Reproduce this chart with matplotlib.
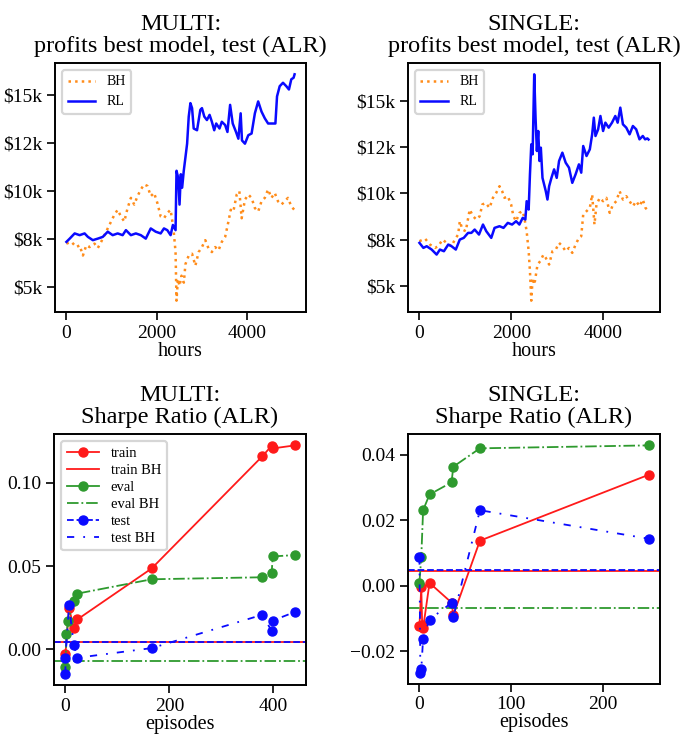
import matplotlib
matplotlib.use('Agg')
import matplotlib.pyplot as plt
from matplotlib.lines import Line2D
from matplotlib.ticker import FuncFormatter, MultipleLocator

# ---- top row: portfolio value on the test set (hours) ----
multi_bh_hours = [0, 110, 220, 293, 366, 440, 513, 623, 696, 770,
                  880, 953, 1063, 1136, 1209, 1283, 1356, 1429, 1503, 1576,
                  1650, 1723, 1796, 1870, 1943, 2016, 2090, 2163, 2236, 2309,
                  2360, 2382, 2419, 2440, 2470, 2507, 2550, 2602, 2638, 2711,
                  2785, 2858, 2931, 3004, 3078, 3151, 3224, 3298, 3371, 3444,
                  3518, 3591, 3642, 3700, 3774, 3833, 3884, 3957, 4031, 4104,
                  4177, 4250, 4324, 4397, 4470, 4544, 4617, 4690, 4764, 4837,
                  4910, 4984, 5050]
multi_bh_value = [7270, 7360, 7090, 7180, 6650, 7180, 7090, 7270, 7040, 7360,
                  7890, 8240, 8770, 9030, 8680, 8420, 9120, 9650, 9300, 9740,
                  10090, 10350, 10270, 9740, 9910, 9380, 8680, 8590, 8860, 9030,
                  8240, 7800, 6830, 4300, 5420, 5070, 5600, 5240, 6200, 6650,
                  6740, 6120, 6830, 7090, 7450, 7010, 6830, 7090, 6920, 7360,
                  7620, 8420, 9030, 8940, 9820, 10000, 8590, 9560, 9820, 9650,
                  9120, 8940, 9470, 9650, 10090, 9650, 9910, 9470, 9300, 9470,
                  9650, 9210, 9030]

multi_rl_hours = [0, 73, 183, 293, 403, 476, 586, 696, 806, 916,
                  1026, 1136, 1246, 1319, 1429, 1539, 1649, 1759, 1869, 1979,
                  2089, 2162, 2236, 2309, 2360, 2419, 2440, 2477, 2507, 2536,
                  2565, 2601, 2638, 2675, 2711, 2748, 2785, 2821, 2895, 2968,
                  3004, 3056, 3114, 3173, 3224, 3276, 3320, 3393, 3444, 3518,
                  3569, 3628, 3686, 3759, 3811, 3862, 3891, 3957, 4031, 4104,
                  4177, 4250, 4324, 4397, 4470, 4544, 4632, 4668, 4727, 4800,
                  4874, 4932, 4984, 5035, 5057]
multi_rl_value = [7360, 7530, 7800, 7710, 7800, 7620, 7450, 7530, 7620, 7890,
                  7710, 7800, 7710, 7970, 7710, 7800, 7710, 7530, 8060, 7890,
                  7800, 8060, 7970, 7710, 8240, 7970, 11060, 10700, 9300, 10880,
                  10180, 11060, 11760, 12470, 13880, 14580, 14320, 13260, 13170, 14230,
                  14320, 13880, 13700, 13970, 13610, 13170, 13520, 13260, 13610, 13440,
                  13080, 14490, 13520, 13080, 12730, 14050, 12640, 12470, 12910, 13000,
                  14050, 14670, 14140, 13790, 13520, 13520, 13520, 14930, 15460, 15640,
                  15460, 15290, 15820, 15900, 16080]

single_bh_hours = [0, 122, 230, 338, 410, 504, 590, 699, 771, 843,
                   879, 937, 1009, 1095, 1167, 1240, 1312, 1369, 1441, 1528,
                   1600, 1672, 1744, 1802, 1852, 1924, 1997, 2047, 2105, 2177,
                   2249, 2285, 2335, 2379, 2407, 2436, 2465, 2501, 2515, 2572,
                   2630, 2702, 2752, 2825, 2897, 2969, 3041, 3113, 3185, 3257,
                   3329, 3401, 3474, 3524, 3567, 3639, 3711, 3762, 3812, 3856,
                   3928, 4000, 4072, 4144, 4216, 4288, 4360, 4432, 4505, 4577,
                   4649, 4721, 4793, 4865, 4923, 4990]
single_bh_value = [7410, 7550, 7230, 7050, 7140, 7500, 7320, 7140, 7500, 7770,
                   8490, 8040, 7950, 9120, 8760, 8580, 8760, 9390, 9480, 9210,
                   9750, 10020, 10380, 10110, 9750, 9840, 9390, 8760, 8490, 8940,
                   9030, 8670, 7950, 6870, 5790, 4200, 5430, 5070, 5250, 6150,
                   6330, 6690, 6510, 6150, 6870, 6960, 7320, 7140, 6870, 7050,
                   6780, 7230, 7590, 7680, 8850, 9030, 9210, 9930, 8310, 9390,
                   9750, 9570, 9750, 8940, 9390, 9570, 10110, 9660, 9840, 9570,
                   9300, 9570, 9300, 9660, 9210, 9030]

single_rl_hours = [0, 86, 158, 266, 374, 446, 533, 627, 699, 792,
                   879, 965, 1059, 1131, 1203, 1297, 1384, 1456, 1564, 1636,
                   1744, 1831, 1924, 2018, 2105, 2177, 2249, 2307, 2335, 2379,
                   2407, 2436, 2465, 2500, 2529, 2558, 2587, 2615, 2644, 2680,
                   2716, 2752, 2788, 2825, 2875, 2933, 2990, 3041, 3113, 3185,
                   3257, 3329, 3401, 3474, 3524, 3567, 3639, 3711, 3762, 3798,
                   3834, 3892, 3942, 4000, 4050, 4122, 4194, 4266, 4317, 4375,
                   4432, 4505, 4577, 4649, 4721, 4793, 4865, 4915, 4966, 4990]
single_rl_value = [7320, 7050, 7140, 6960, 6690, 6960, 6870, 7230, 7140, 6960,
                   7500, 7590, 7860, 7860, 8040, 7770, 8310, 7950, 7590, 8130,
                   8220, 8130, 8400, 8310, 8490, 8310, 8670, 8580, 9570, 9120,
                   11020, 12640, 12100, 16420, 14080, 12280, 13360, 11740, 12460, 10830,
                   10470, 10110, 9660, 10380, 10830, 11290, 10830, 11740, 12190, 11650,
                   11380, 10560, 11020, 11560, 11110, 12550, 12010, 12370, 13180, 14080,
                   13090, 13450, 14170, 13360, 13810, 13540, 13810, 14170, 13810, 14620,
                   13720, 13540, 13180, 13630, 13450, 12910, 13090, 12910, 12960, 12900]

# ---- bottom row: sharpe ratio vs episodes ----
multi_train_ep = [0, 7, 16, 23, 166, 379, 397, 399, 441]
multi_train_sr = [-0.0025, 0.0248, 0.0130, 0.0180, 0.0486, 0.1159, 0.1222, 0.1206, 0.1224]
multi_eval_ep = [0, 2, 5, 16, 23, 166, 379, 397, 399, 441]
multi_eval_sr = [-0.0105, 0.0090, 0.0170, 0.0290, 0.0335, 0.0421, 0.0433, 0.0460, 0.0558, 0.0566]
multi_test_ep = [0, 0, 7, 16, 23, 166, 379, 397, 399, 441]
multi_test_sr = [-0.0145, -0.0050, 0.0268, 0.0026, -0.0050, 0.0008, 0.0208, 0.0111, 0.0173, 0.0224]
multi_train_bh = 0.0042
multi_eval_bh = -0.0069
multi_test_bh = 0.0046

single_train_ep = [0, 2, 3, 4, 11, 35, 37, 66, 250]
single_train_sr = [-0.0124, -0.0004, -0.0121, -0.0130, 0.0008, -0.0052, -0.0090, 0.0137, 0.0338]
single_eval_ep = [0, 2, 4, 11, 35, 37, 66, 250]
single_eval_sr = [0.0009, 0.0087, 0.0230, 0.0278, 0.0315, 0.0363, 0.0419, 0.0428]
single_test_ep = [0, 1, 2, 4, 11, 35, 37, 66, 250]
single_test_sr = [0.0086, -0.0266, -0.0256, -0.0162, -0.0104, -0.0053, -0.0096, 0.0230, 0.0143]
single_train_bh = 0.0043
single_eval_bh = -0.0068
single_test_bh = 0.0047

C_BH = '#ff8c1a'
C_RL = '#0a0aff'
C_TRAIN = '#ff1a1a'
C_EVAL = '#2e9a2e'
C_TEST = '#0a0aff'
LOOSE_DASHDOT = (0, (4, 5, 1, 5))

plt.rcParams['font.family'] = ['Liberation Serif', 'DejaVu Serif']
plt.rcParams['axes.linewidth'] = 1.4
plt.rcParams['xtick.major.size'] = 5.5
plt.rcParams['ytick.major.size'] = 5.5
plt.rcParams['xtick.major.width'] = 1.2
plt.rcParams['ytick.major.width'] = 1.2
plt.rcParams['xtick.labelsize'] = 14
plt.rcParams['ytick.labelsize'] = 14
plt.rcParams['axes.labelsize'] = 14.5
plt.rcParams['axes.titlesize'] = 17.5
plt.rcParams['legend.edgecolor'] = '0.8'


def dollars(v, pos):
    return f'${v / 1000:.0f}k'


def profit_panel(ax, title, bh_h, bh_v, rl_h, rl_v):
    ax.plot(bh_h, bh_v, ':', color=C_BH, lw=1.8, label='BH')
    ax.plot(rl_h, rl_v, '-', color=C_RL, lw=1.8, label='RL')
    ax.yaxis.set_major_locator(MultipleLocator(2500))
    ax.yaxis.set_major_formatter(FuncFormatter(dollars))
    ax.xaxis.set_major_locator(MultipleLocator(2000))
    ax.set_xlabel('hours', labelpad=0)
    ax.set_title(title, pad=8, linespacing=1.05)
    leg = ax.legend(loc='upper left', fontsize=10, handlelength=2.0)
    leg.get_frame().set_linewidth(1.6)


def sharpe_panel(ax, title, tr, ev, te, bh, show_legend):
    ms = 6.5
    ax.plot(tr[0], tr[1], '-', marker='o', color=C_TRAIN, lw=1.3, ms=ms)
    ax.axhline(bh[0], color=C_TRAIN, ls='-', lw=1.3)
    ax.plot(ev[0], ev[1], '-.', marker='o', color=C_EVAL, lw=1.3, ms=ms)
    ax.axhline(bh[1], color=C_EVAL, ls='-.', lw=1.3)
    ax.plot(te[0], te[1], ls=LOOSE_DASHDOT, marker='o', color=C_TEST, lw=1.3, ms=ms)
    ax.axhline(bh[2], color=C_TEST, ls='--', lw=1.3)
    ax.set_xlabel('episodes', labelpad=0)
    ax.set_title(title, pad=8, linespacing=1.05)
    if show_legend:
        handles = [
            Line2D([], [], color=C_TRAIN, ls='-', marker='o', lw=1.3, ms=ms),
            Line2D([], [], color=C_TRAIN, ls='-', lw=1.3),
            Line2D([], [], color=C_EVAL, ls='-', marker='o', lw=1.3, ms=ms),
            Line2D([], [], color=C_EVAL, ls='-.', lw=1.3),
            Line2D([], [], color=C_TEST, ls='--', marker='o', lw=1.3, ms=ms),
            Line2D([], [], color=C_TEST, ls=LOOSE_DASHDOT, lw=1.3),
        ]
        labels = ['train', 'train BH', 'eval', 'eval BH', 'test', 'test BH']
        leg = ax.legend(handles, labels, loc='upper left', fontsize=10.5,
                        handlelength=2.2, labelspacing=0.25)
        leg.get_frame().set_linewidth(1.6)


fig = plt.figure(figsize=(6.85, 7.35), dpi=100)
ax1 = fig.add_axes([0.0803, 0.5755, 0.3664, 0.3388])
ax2 = fig.add_axes([0.5956, 0.5755, 0.3679, 0.3388])
ax3 = fig.add_axes([0.0788, 0.0680, 0.3679, 0.3415])
ax4 = fig.add_axes([0.5956, 0.0694, 0.3679, 0.3401])

profit_panel(ax1, 'MULTI:\nprofits best model, test (ALR)',
             multi_bh_hours, multi_bh_value, multi_rl_hours, multi_rl_value)
profit_panel(ax2, 'SINGLE:\nprofits best model, test (ALR)',
             single_bh_hours, single_bh_value, single_rl_hours, single_rl_value)

sharpe_panel(ax3, 'MULTI:\nSharpe Ratio (ALR)',
             (multi_train_ep, multi_train_sr), (multi_eval_ep, multi_eval_sr),
             (multi_test_ep, multi_test_sr),
             (multi_train_bh, multi_eval_bh, multi_test_bh), True)
ax3.yaxis.set_major_locator(MultipleLocator(0.05))
ax3.xaxis.set_major_locator(MultipleLocator(200))

sharpe_panel(ax4, 'SINGLE:\nSharpe Ratio (ALR)',
             (single_train_ep, single_train_sr), (single_eval_ep, single_eval_sr),
             (single_test_ep, single_test_sr),
             (single_train_bh, single_eval_bh, single_test_bh), False)
ax4.yaxis.set_major_locator(MultipleLocator(0.02))
ax4.xaxis.set_major_locator(MultipleLocator(100))

fig.savefig('out.png', dpi=100)
